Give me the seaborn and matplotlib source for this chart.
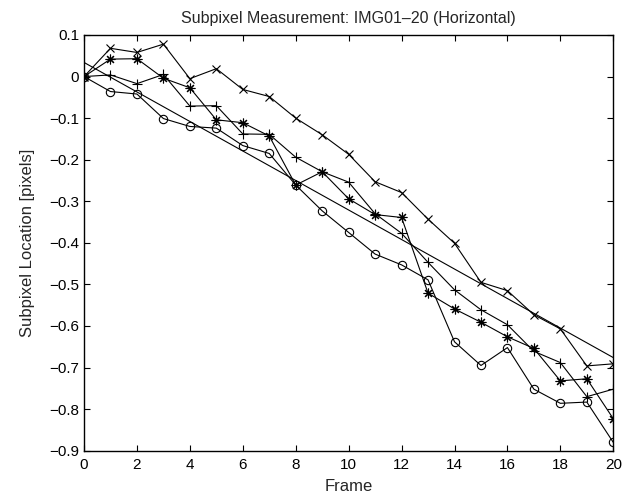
import numpy as np
import pandas as pd
import matplotlib
matplotlib.use("Agg")
import matplotlib.pyplot as plt
import seaborn as sns

frames = list(range(21))
loc_x = [0, 0.068, 0.058, 0.078, -0.005, 0.019, -0.031, -0.048, -0.100, -0.140,
         -0.187, -0.253, -0.279, -0.343, -0.401, -0.495, -0.515, -0.573, -0.607,
         -0.696, -0.691]
loc_star = [0, 0.042, 0.043, -0.004, -0.027, -0.104, -0.111, -0.143, -0.261, -0.229,
            -0.294, -0.332, -0.339, -0.521, -0.559, -0.591, -0.626, -0.654, -0.732,
            -0.727, -0.823]
loc_plus = [0, 0.004, -0.017, 0.005, -0.071, -0.070, -0.138, -0.139, -0.194, -0.229,
            -0.254, -0.330, -0.377, -0.447, -0.513, -0.561, -0.597, -0.661, -0.688,
            -0.770, -0.752]
loc_circ = [0, -0.036, -0.042, -0.101, -0.120, -0.124, -0.166, -0.185, -0.261, -0.323,
            -0.375, -0.427, -0.453, -0.489, -0.638, -0.695, -0.652, -0.752, -0.786,
            -0.783, -0.880]

# linear trend line endpoints
fit_frames = [0, 20]
fit_loc = [0.034, -0.676]

sns.set_style("ticks")
plt.rcParams['font.family'] = ['Liberation Sans', 'DejaVu Sans']
plt.rcParams['xtick.direction'] = 'in'
plt.rcParams['ytick.direction'] = 'in'

fig = plt.figure(figsize=(6.35, 5.0), dpi=100)
ax = fig.add_axes([0.1323, 0.0986, 0.8335, 0.8314])

lw = 0.8
mk = dict(color='black', linewidth=lw, markeredgecolor='black',
          markeredgewidth=0.8, ax=ax)
sns.lineplot(x=fit_frames, y=fit_loc, color='black', linewidth=lw, ax=ax)
sns.lineplot(x=frames, y=loc_x, marker='x', markersize=6, **mk)
sns.lineplot(x=frames, y=loc_star, marker=(8, 2, 0), markersize=7, **mk)
sns.lineplot(x=frames, y=loc_plus, marker='+', markersize=7, **mk)
sns.lineplot(x=frames, y=loc_circ, marker='o', markersize=6,
             markerfacecolor='none', **mk)

ax.set_xlim(0, 20)
ax.set_ylim(-0.9, 0.1)
ax.set_xticks(range(0, 21, 2))
ax.set_yticks(np.round(np.arange(-0.9, 0.11, 0.1), 1))
ax.set_yticklabels(['\u22120.9', '\u22120.8', '\u22120.7', '\u22120.6', '\u22120.5',
                    '\u22120.4', '\u22120.3', '\u22120.2', '\u22120.1', '0', '0.1'])
ax.tick_params(top=True, right=True, length=4, width=0.8, labelsize=11, colors='black')
ax.tick_params(axis='x', pad=5)
for s in ax.spines.values():
    s.set_visible(True)
    s.set_linewidth(1.0)
    s.set_color('black')

ax.set_title('Subpixel Measurement: IMG01\u201320 (Horizontal)', fontsize=11.5, pad=9)
ax.set_xlabel('Frame', fontsize=12, labelpad=5)
ax.set_ylabel('Subpixel Location [pixels]', fontsize=12, labelpad=10)

fig.savefig('out.png', dpi=100)
